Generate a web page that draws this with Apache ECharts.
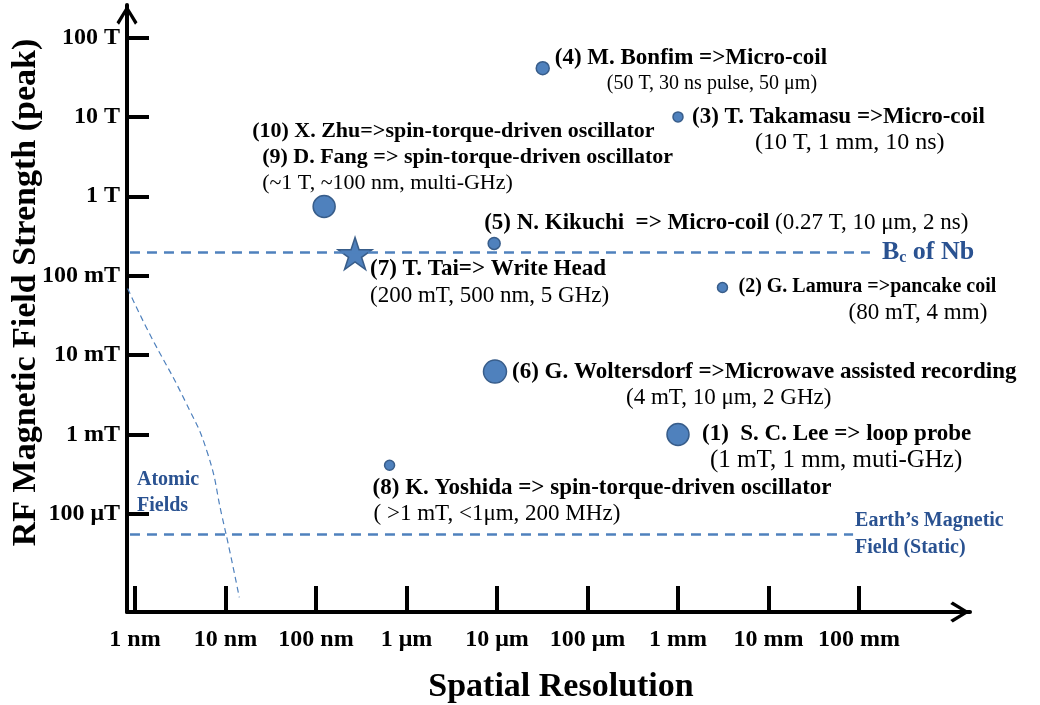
<!DOCTYPE html>
<html>
<head>
<meta charset="utf-8">
<title>RF magnetic field strength vs spatial resolution</title>
<script src="https://cdn.jsdelivr.net/npm/echarts@6/dist/echarts.min.js"></script>
<style>
  html, body { margin: 0; padding: 0; background: #fff; }
  #chart { width: 1040px; height: 705px; }
</style>
</head>
<body>
<div id="chart"></div>
<script>
// axis decades (metres / tesla)
var xTicks = [1e-9, 1e-8, 1e-7, 1e-6, 1e-5, 1e-4, 1e-3, 1e-2, 1e-1];
var xTickLabels = ['1 nm', '10 nm', '100 nm', '1 μm', '10 μm', '100 μm', '1 mm', '10 mm', '100 mm'];
var yTicks = [1e-4, 1e-3, 1e-2, 1e-1, 1, 10, 100];
var yTickLabels = ['100 μT', '1 mT', '10 mT', '100 mT', '1 T', '10 T', '100 T'];

// reported works, positions
var refTitles = [
  '(1)  S. C. Lee => loop probe',
  '(2) G. Lamura =>pancake coil',
  '(3) T. Takamasu =>Micro-coil',
  '(4) M. Bonfim =>Micro-coil',
  '(5) N. Kikuchi  => Micro-coil',
  '(6) G. Woltersdorf =>Microwave assisted recording',
  '(7) T. Tai=> Write Head',
  '(8) K. Yoshida => spin-torque-driven oscillator',
  '(10) X. Zhu=>spin-torque-driven oscillator\n(9) D. Fang => spin-torque-driven oscillator'
];
var refDetails = [
  '(1 mT, 1 mm, muti-GHz)',
  '(80 mT, 4 mm)',
  '(10 T, 1 mm, 10 ns)',
  '(50 T, 30 ns pulse, 50 μm)',
  '(0.27 T, 10 μm, 2 ns)',
  '(4 mT, 10 μm, 2 GHz)',
  '(200 mT, 500 nm, 5 GHz)',
  '( >1 mT, <1μm, 200 MHz)',
  '(~1 T, ~100 nm, multi-GHz)'
];
var resolution = [1.0e-3, 3.1e-3, 1.0e-3, 3.2e-5, 9.3e-6, 9.5e-6, 2.7e-7, 6.5e-7, 1.23e-7];
var fieldPeak = [1.0e-3, 7.1e-2, 10, 41, 0.255, 6.2e-3, 0.19, 4.1e-4, 0.745];
var markerSize = [22, 10, 10, 13, 12, 23, 34, 10, 22];

// reference levels
var bcNb = 0.2;
var earthField = 5.5e-5;
var refLineFrom = 8.8e-10;
var bcLineTo = 0.132;
var earthLineTo = 0.086;

// atomic field boundary
var atomicX = [8.3e-10, 1.37e-9, 3.6e-9, 6.34e-9, 9.18e-9, 1.12e-8, 1.42e-8];
var atomicY = [6.9e-2, 2.1e-2, 2.6e-3, 5.8e-4, 9.2e-5, 3.3e-5, 8.9e-6];

var serif = '"Liberation Serif", "Times New Roman", serif';
var blue = '#4F81BD', blueEdge = '#385D8A', navy = '#2A5291';
var starPath = 'path://M50,0 L61.2,34.5 L97.6,34.5 L68.2,55.9 L79.4,90.5 L50,69.1 L20.6,90.5 L31.8,55.9 L2.4,34.5 L38.8,34.5 Z';
var chevron = 'path://M10.5,0 L21,17 L18.5,19.5 L10.5,6 L2.5,19.5 L0,17 Z';

// where each note sits relative to its marker (top-left offset, detail indent, font sizes)
var labelLayout = [
  {dx: 24, dy: -13, indent: 8, title: 23, detail: 25},
  {dx: 16, dy: -14, indent: 110, title: 20, detail: 23},
  {dx: 14, dy: -13, indent: 63, title: 23, detail: 24},
  {dx: 12, dy: -23, indent: 52, title: 23, detail: 20},
  {dx: -10, dy: -33, inline: true, title: 23, detail: 23},
  {dx: 17, dy: -13, indent: 114, title: 23, detail: 23},
  {dx: 15, dy: 3, indent: 0, title: 23, detail: 23},
  {dx: -17, dy: 10, indent: 1, title: 23, detail: 23},
  {dx: -72, dy: -88, indent: 10, subIndent: 10, title: 22, detail: 22}
];

function decadeFormatter(ticks, labels) {
  return function (v) {
    var k = Math.round(Math.log10(v));
    for (var i = 0; i < ticks.length; i++) {
      if (Math.round(Math.log10(ticks[i])) === k) return labels[i];
    }
    return '';
  };
}

var works = resolution.map(function (x, i) {
  var lay = labelLayout[i];
  var lines = refTitles[i].split('\n');
  var text = '{b|' + lines[0] + '}';
  for (var k = 1; k < lines.length; k++) text += '\n{bi|' + lines[k] + '}';
  text += lay.inline ? '{b| }{n|' + refDetails[i] + '}' : '\n{n|' + refDetails[i] + '}';
  var boldText = {fontFamily: serif, fontWeight: 'bold', fontSize: lay.title, lineHeight: 26, color: '#000'};
  return {
    value: [x, fieldPeak[i]],
    symbol: i === 6 ? starPath : 'circle',
    symbolSize: i === 6 ? [34, 32] : markerSize[i],
    label: {
      show: true,
      position: 'inside',
      align: 'left',
      verticalAlign: 'top',
      offset: [lay.dx, lay.dy],
      fontFamily: serif,
      fontSize: lay.title,
      formatter: text,
      rich: {
        b: boldText,
        bi: Object.assign({}, boldText, {padding: [0, 0, 0, lay.subIndent || 0]}),
        n: {
          fontFamily: serif, fontWeight: 'normal', fontSize: lay.detail, lineHeight: 26, color: '#000',
          padding: [0, 0, 0, lay.inline ? 0 : lay.indent]
        }
      }
    }
  };
});

var atomicData = atomicX.map(function (x, i) { return [x, atomicY[i]]; });

var option = {
  animation: false,
  backgroundColor: '#fff',
  grid: {left: 127, right: 70, top: 5, bottom: 93, containLabel: false, outerBoundsMode: 'none'},
  xAxis: {
    type: 'log',
    logBase: 10,
    min: Math.pow(10, -9.0884),
    max: Math.pow(10, 0.2265),
    name: 'Spatial Resolution',
    nameLocation: 'middle',
    nameGap: 58,
    nameMoveOverlap: false,
    nameTextStyle: {fontFamily: serif, fontWeight: 'bold', fontSize: 34, color: '#000', padding: [0, 0, 0, 25]},
    axisLine: {
      show: true,
      symbol: ['none', chevron],
      symbolSize: [21, 20],
      symbolOffset: [0, -10],
      lineStyle: {color: '#000', width: 4}
    },
    axisTick: {show: true, inside: true, length: 26, customValues: xTicks, lineStyle: {color: '#000', width: 4}},
    minorTick: {show: false},
    axisLabel: {
      customValues: xTicks,
      formatter: decadeFormatter(xTicks, xTickLabels),
      margin: 16,
      fontFamily: serif, fontWeight: 'bold', fontSize: 24, color: '#000'
    },
    splitLine: {show: false}
  },
  yAxis: {
    type: 'log',
    logBase: 10,
    min: Math.pow(10, -5.2355),
    max: Math.pow(10, 2.409),
    name: 'RF Magnetic Field Strength (peak)',
    nameLocation: 'middle',
    nameGap: 84,
    nameMoveOverlap: false,
    nameTextStyle: {fontFamily: serif, fontWeight: 'bold', fontSize: 34, color: '#000', padding: [0, 0, 0, 32]},
    axisLine: {
      show: true,
      symbol: ['none', chevron],
      symbolSize: [21, 20],
      symbolOffset: [0, -10],
      lineStyle: {color: '#000', width: 4}
    },
    axisTick: {show: true, inside: true, length: 22, customValues: yTicks, lineStyle: {color: '#000', width: 4}},
    minorTick: {show: false},
    axisLabel: {
      customValues: yTicks,
      formatter: decadeFormatter(yTicks, yTickLabels),
      margin: 7,
      fontFamily: serif, fontWeight: 'bold', fontSize: 24, color: '#000'
    },
    splitLine: {show: false}
  },
  graphic: [{
    type: 'text',
    left: 137,
    top: 467,
    style: {
      text: 'Atomic\nFields',
      font: 'bold 20px ' + serif,
      lineHeight: 26,
      fill: navy
    }
  }],
  series: [
    {
      name: 'Atomic fields',
      type: 'line',
      data: atomicData,
      smooth: true,
      showSymbol: false,
      silent: true,
      lineStyle: {color: blue, width: 1.2, type: [6, 4]},
      z: 1
    },
    {
      name: 'Works',
      type: 'scatter',
      data: works,
      itemStyle: {color: blue, borderColor: blueEdge, borderWidth: 1.5, opacity: 1},
      z: 3,
      markLine: {
        silent: true,
        symbol: 'none',
        lineStyle: {color: blue, width: 2.5, type: [10, 7]},
        data: [
          [
            {
              coord: [refLineFrom, bcNb],
              label: {
                show: true,
                position: 'end',
                distance: 12,
                formatter: '{b|B}{s|c}{b| of Nb}',
                rich: {
                  b: {fontFamily: serif, fontWeight: 'bold', fontSize: 26, color: navy},
                  s: {fontFamily: serif, fontWeight: 'bold', fontSize: 16, color: navy, padding: [12, 0, 0, 0]}
                }
              }
            },
            {coord: [bcLineTo, bcNb]}
          ],
          [
            {
              coord: [refLineFrom, earthField],
              label: {
                show: true,
                position: 'end',
                distance: 2,
                align: 'left',
                formatter: 'Earth’s Magnetic\nField (Static)',
                fontFamily: serif, fontWeight: 'bold', fontSize: 20, lineHeight: 27, color: navy
              }
            },
            {coord: [earthLineTo, earthField]}
          ]
        ]
      }
    }
  ]
};

var chart = echarts.init(document.getElementById('chart'));
chart.setOption(option);
</script>
</body>
</html>
